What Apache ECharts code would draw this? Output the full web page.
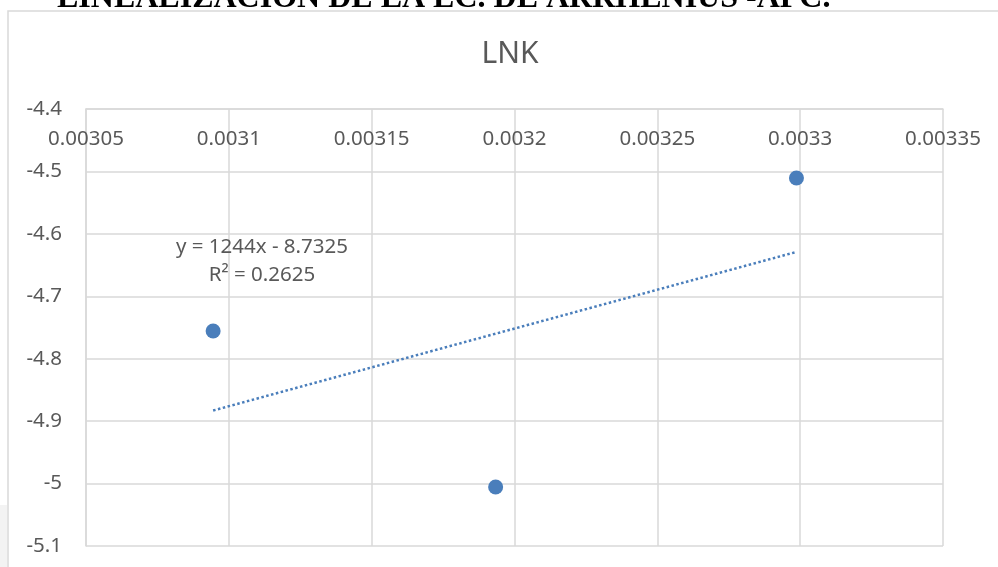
<!DOCTYPE html>
<html>
<head>
<meta charset="utf-8">
<script src="https://cdn.jsdelivr.net/npm/echarts@6/dist/echarts.min.js"></script>
<style>
  html, body { margin: 0; padding: 0; background: #ffffff; overflow: hidden; }
  #chart { width: 998px; height: 567px; }
</style>
</head>
<body>
<div id="chart"></div>
<script>
// Arrhenius linearisation: ln k against 1/T
const heading = 'LINEALIZACION DE LA EC. DE ARRHENIUS -APC.';
const chartTitle = 'LNK';
const invTemp = [0.0030945, 0.0031934, 0.0032987];
const lnK = [-4.7556, -5.0055, -4.5105];
const trendSlope = 1244;
const trendIntercept = -8.7325;
const trendR2 = 0.2625;
const xRange = [0.00305, 0.00335];
const xStep = 0.00005;
const yRange = [-5.1, -4.4];
const yStep = 0.1;

const points = invTemp.map((x, i) => [x, lnK[i]]);
const xLo = Math.min(...invTemp), xHi = Math.max(...invTemp);
const trend = [xLo, xHi].map(x => [x, trendSlope * x + trendIntercept]);
const eqText = 'y = ' + trendSlope + 'x - ' + Math.abs(trendIntercept);
const r2Text = 'R\u00B2 = ' + trendR2;

const gridColor = '#d9d9d9';
const textColor = '#595959';
const blue = '#4a7ebb';
const sans = '"Noto Sans", "Open Sans", sans-serif';

const chart = echarts.init(document.getElementById('chart'), null, { renderer: 'canvas' });
chart.setOption({
  animation: false,
  backgroundColor: '#ffffff',
  grid: { left: 86, top: 109, right: 55, bottom: 21, containLabel: false },
  xAxis: {
    type: 'value',
    position: 'top',
    min: xRange[0], max: xRange[1], interval: xStep,
    axisLine: { show: true, lineStyle: { color: gridColor, width: 1.5 } },
    axisTick: { show: false },
    splitLine: { show: true, lineStyle: { color: gridColor, width: 1.5 } },
    axisLabel: {
      inside: true, margin: 20,
      color: textColor, fontFamily: sans, fontSize: 20.5,
      formatter: v => String(Number(v.toFixed(5)))
    }
  },
  yAxis: {
    type: 'value',
    min: yRange[0], max: yRange[1], interval: yStep,
    axisLine: { show: true, lineStyle: { color: gridColor, width: 1.5 } },
    axisTick: { show: false },
    splitLine: { show: true, lineStyle: { color: gridColor, width: 1.5 } },
    axisLabel: {
      margin: 24,
      color: textColor, fontFamily: sans, fontSize: 20.5,
      formatter: v => String(Number(v.toFixed(1)))
    }
  },
  series: [
    {
      type: 'line',
      data: trend,
      symbol: 'none',
      z: 2,
      lineStyle: { color: blue, width: 2.5, type: [2.5, 2.5] }
    },
    {
      type: 'scatter',
      data: points,
      symbol: 'circle',
      symbolSize: 15,
      z: 3,
      itemStyle: { color: blue, opacity: 1 }
    }
  ],
  graphic: [
    {
      type: 'rect', silent: true, z: -1,
      shape: { x: 0, y: 505, width: 7, height: 62 },
      style: { fill: '#f3f3f3' }
    },
    {
      type: 'rect', silent: true, z: 0,
      shape: { x: 8, y: 11, width: 1010, height: 600 },
      style: { fill: 'none', stroke: gridColor, lineWidth: 1.5 }
    },
    {
      type: 'text', silent: true, z: 5,
      x: 57, y: -17,
      style: {
        text: heading, font: 'bold 32px "Liberation Serif", serif',
        fill: '#000000', textAlign: 'left', textVerticalAlign: 'top'
      }
    },
    {
      type: 'text', silent: true, z: 5,
      x: 510, y: 54,
      style: {
        text: chartTitle, font: '30px ' + sans,
        fill: textColor, textAlign: 'center', textVerticalAlign: 'middle'
      }
    },
    {
      type: 'text', silent: true, z: 5,
      x: 262, y: 247,
      style: {
        text: eqText, font: '20.5px ' + sans,
        fill: textColor, textAlign: 'center', textVerticalAlign: 'middle'
      }
    },
    {
      type: 'text', silent: true, z: 5,
      x: 262, y: 275,
      style: {
        text: r2Text, font: '20.5px ' + sans,
        fill: textColor, textAlign: 'center', textVerticalAlign: 'middle'
      }
    }
  ]
});
</script>
</body>
</html>
